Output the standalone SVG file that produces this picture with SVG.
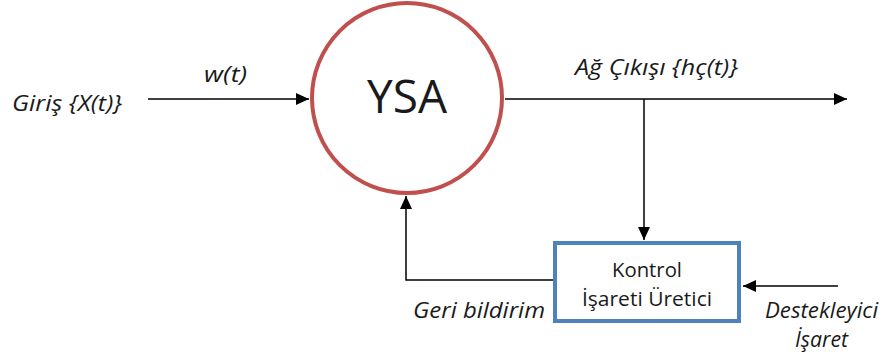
<svg xmlns="http://www.w3.org/2000/svg" width="884" height="360" viewBox="0 0 884 360">
<style>
.lbl{font-family:"Open Sans","Liberation Sans",sans-serif;font-style:italic;font-size:21px;fill:#1a1a1a}
.txt{font-family:"Open Sans","Liberation Sans",sans-serif;fill:#1a1a1a}
.ln{stroke:#000;stroke-width:1.5;fill:none}
</style>
<defs>
<marker id="ah" markerWidth="13" markerHeight="12" refX="13" refY="6" orient="auto" markerUnits="userSpaceOnUse" viewBox="0 0 13 12">
<path d="M0,0 L13,6 L0,12 z" fill="#000"/>
</marker>
</defs>
<rect width="884" height="360" fill="#fff"/>
<g id="connectors">
<path class="ln" d="M148,99 L309,99" marker-end="url(#ah)"/>
<path class="ln" d="M505,99 L847,99" marker-end="url(#ah)"/>
<path class="ln" d="M644,99 L644,240" marker-end="url(#ah)"/>
<path class="ln" d="M553,280 L406,280 L406,196" marker-end="url(#ah)"/>
<path class="ln" d="M838,286 L743,286" marker-end="url(#ah)"/>
</g>
<g id="ysa">
<circle cx="407" cy="98" r="95" fill="#fff" stroke="#C0504D" stroke-width="4"/>
<text class="txt" x="407" y="113" font-size="46" text-anchor="middle" textLength="80" lengthAdjust="spacingAndGlyphs">YSA</text>
</g>
<g id="kontrol">
<rect x="555" y="243" width="184" height="78" fill="#fff" stroke="#4F81BD" stroke-width="4"/>
<text class="txt" x="647" y="277" font-size="20.5" text-anchor="middle" textLength="70" lengthAdjust="spacingAndGlyphs">Kontrol</text>
<text class="txt" x="647" y="306" font-size="20.5" text-anchor="middle" textLength="130" lengthAdjust="spacingAndGlyphs">İşareti Üretici</text>
</g>
<g id="labels">
<text class="lbl" x="12" y="111" textLength="110" lengthAdjust="spacingAndGlyphs">Giriş {X(t)}</text>
<text class="lbl" x="204" y="82" textLength="43" lengthAdjust="spacingAndGlyphs">w(t)</text>
<text class="lbl" x="575" y="75" textLength="163" lengthAdjust="spacingAndGlyphs">Ağ Çıkışı {hç(t)}</text>
<text class="lbl" x="413" y="318" textLength="132" lengthAdjust="spacingAndGlyphs">Geri bildirim</text>
<text class="lbl" x="765" y="318" textLength="113" lengthAdjust="spacingAndGlyphs">Destekleyici</text>
<text class="lbl" x="795" y="347" textLength="53" lengthAdjust="spacingAndGlyphs">İşaret</text>
</g>
</svg>
